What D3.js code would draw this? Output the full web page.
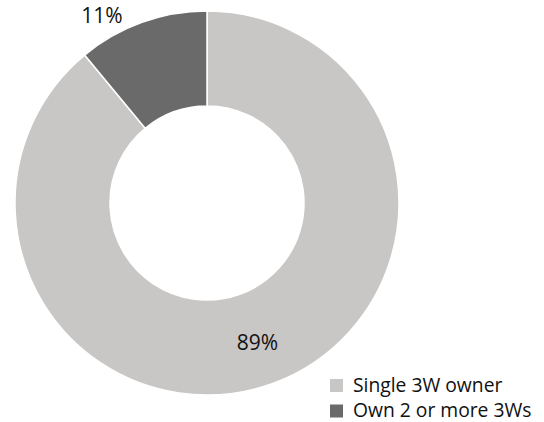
<!DOCTYPE html>
<html><head><meta charset="utf-8">
<script src="https://cdn.jsdelivr.net/npm/d3@7"></script>
<style>html,body{margin:0;padding:0;background:#fff;}svg{display:block;}</style>
</head><body>
<svg id="chart" width="544" height="422"></svg>
<script>
const categories = ["Single 3W owner", "Own 2 or more 3Ws"];
const values = [89, 11];
const labels = ["89%", "11%"];
const colors = ["#c8c7c5", "#6a6a6a"];

const svg = d3.select("#chart");
const cx = 207, cy = 203, rOuter = 192, rInner = 97;
const font = "'Open Sans', sans-serif";

const pie = d3.pie().sort(null).value(d => d)(values);
const arc = d3.arc().innerRadius(rInner).outerRadius(rOuter);
const g = svg.append("g").attr("transform", `translate(${cx},${cy})`);
g.selectAll("path").data(pie).join("path")
  .attr("d", arc)
  .attr("fill", (d, i) => colors[i])
  .attr("stroke", "#fff").attr("stroke-width", 1.5);

// labels
const labelPos = [[257.5, 350], [102, 23]];
svg.selectAll("text.lbl").data(labels).join("text")
  .attr("class", "lbl")
  .attr("x", (d, i) => labelPos[i][0]).attr("y", (d, i) => labelPos[i][1])
  .attr("text-anchor", "middle")
  .attr("font-family", font).attr("font-size", 21).attr("fill", "#111")
  .text(d => d);

// legend
const lg = svg.append("g");
categories.forEach((c, i) => {
  const y = 379 + i * 25.5;
  lg.append("rect").attr("x", 330).attr("y", y).attr("width", 13).attr("height", 13).attr("fill", colors[i]);
  lg.append("text").attr("x", 353).attr("y", y + 12.5)
    .attr("font-family", font).attr("font-size", 19.3).attr("fill", "#111").text(c);
});
</script>
</body></html>
